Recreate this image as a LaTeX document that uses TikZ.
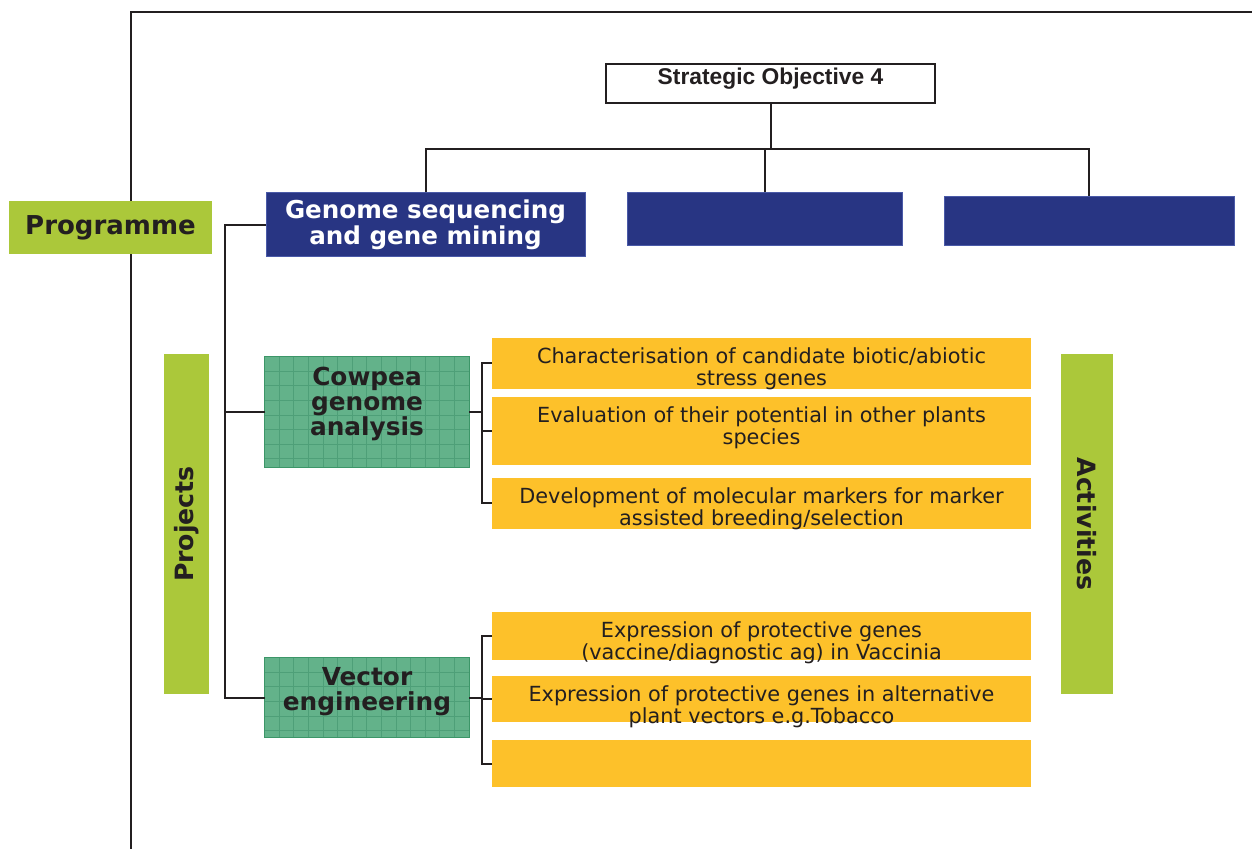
\documentclass[tikz,border=0pt]{standalone}
\usepackage{fontspec}
\setmainfont{DejaVu Sans}
\newfontfamily\arialfam{Liberation Sans}
\usetikzlibrary{calc}
\definecolor{lime}{HTML}{ABC83A}
\definecolor{navy}{HTML}{283583}
\definecolor{navyedge}{HTML}{4A5AA8}
\definecolor{gold}{HTML}{FDC12A}
\definecolor{grn}{HTML}{63B28A}
\definecolor{grnline}{HTML}{4E9F78}
\definecolor{grnedge}{HTML}{3C9668}
\definecolor{ink}{HTML}{231F20}
\tikzset{
  box/.style={rectangle, inner sep=0pt, align=center},
  navybox/.style={box, fill=navy, draw=navyedge, line width=0.5pt, text=white,
    font=\bfseries\fontsize{12.3}{13}\selectfont},
  limebox/.style={box, fill=lime, text=ink, font=\bfseries\fontsize{13}{14}\selectfont},
  goldbox/.style={box, fill=gold, minimum width=269.5pt},
  goldtext/.style={align=center, inner sep=0pt, text=ink,
    font=\fontsize{10.4}{10.9}\selectfont},
  grnbox/.style={box, fill=grn, minimum width=102pt},
  grntext/.style={align=center, inner sep=0pt, text=ink,
    font=\bfseries\fontsize{12.4}{12.6}\selectfont},
  gridl/.style={draw=grnline, line width=0.35pt},
  conn/.style={draw=ink, line width=1pt},
  frameline/.style={draw=ink, line width=1pt},
}
\begin{document}
\begin{tikzpicture}[x=0.5pt,y=-0.5pt]
\useasboundingbox (0,0) rectangle (1252,849);
\fill[white] (0,0) rectangle (1252,849);
% frame
\draw[frameline] (131,849) -- (131,12) -- (1252,12);

% top objective
\node[box, draw=ink, line width=0.8pt, minimum width=164.5pt, minimum height=19.5pt,
  font=\arialfam\bfseries\fontsize{11.4}{13}\selectfont, text=ink,
  text height=8.2pt, text depth=7.5pt] (so) at (770.5,83.5) {Strategic Objective 4};

% programme level
\node[navybox, minimum width=159.5pt, minimum height=32pt] (g1) at (425.5,225)
  {Genome sequencing\\and gene mining};
\node[navybox, minimum width=137.5pt, minimum height=26.5pt] (g2) at (764.5,219.5) {};
\node[navybox, minimum width=145pt, minimum height=24.5pt] (g3) at (1089,221.5) {};
\node[limebox, minimum width=101.5pt, minimum height=26.5pt] (prog) at (110.5,227.5) {Programme};

% side labels
\node[limebox, rotate=90, minimum width=170pt, minimum height=22.5pt,
  font=\bfseries\fontsize{12.6}{14}\selectfont] (proj) at (186.5,524) {Projects};
\node[limebox, rotate=-90, minimum width=170pt, minimum height=26pt,
  font=\bfseries\fontsize{12.6}{14}\selectfont] (act) at (1087,524) {Activities};

% project boxes
\node[grnbox, minimum height=55pt] (cow) at (367,412) {};
\node[grnbox, minimum height=39.5pt] (vec) at (367,697.5) {};
\foreach \b in {cow,vec}{
  \begin{scope}
    \clip (\b.north west) rectangle (\b.south east);
    \foreach \i in {1,...,14}
      \draw[gridl] ($(\b.north west)+(14.6*\i,0)$) -- ++(0,120);
    \foreach \j in {1,...,8}
      \draw[gridl] ($(\b.north west)+(0,14.6*\j)$) -- ++(210,0);
  \end{scope}
  \draw[draw=grnedge, line width=0.8pt] (\b.north west) rectangle (\b.south east);
}
\node[grntext] (cowt) at (367,404) {Cowpea\\genome\\analysis};
\node[grntext] (vect) at (367,692) {Vector\\engineering};

% activities
\node[goldbox, minimum height=25.5pt] (a1) at (761.5,363.5) {};
\node[goldbox, minimum height=34pt] (a2) at (761.5,431) {};
\node[goldbox, minimum height=25.5pt] (a3) at (761.5,503.5) {};
\node[goldbox, minimum height=24pt] (a4) at (761.5,636) {};
\node[goldbox, minimum height=23pt] (a5) at (761.5,699) {};
\node[goldbox, minimum height=23.5pt] (a6) at (761.5,763.5) {};
\node[goldtext] (a1t) at ($(a1.center)+(0,5)$)
  {Characterisation of candidate biotic/abiotic\\stress genes};
\node[goldtext] (a2t) at ($(a2.center)+(0,-3)$)
  {Evaluation of their potential in other plants\\species};
\node[goldtext] (a3t) at ($(a3.center)+(0,5)$)
  {Development of molecular markers for marker\\assisted breeding/selection};
\node[goldtext] (a4t) at ($(a4.center)+(0,7)$)
  {Expression of protective genes\\(vaccine/diagnostic ag) in Vaccinia};
\node[goldtext] (a5t) at ($(a5.center)+(0,8)$)
  {Expression of protective genes in alternative\\plant vectors e.g.Tobacco};

% connectors top
\coordinate (bus) at (0,149);
\draw[conn] (so.south) -- (so.south |- bus);
\draw[conn] (g1.north) -- (g1.north |- bus) -- (g3.north |- bus) -- (g3.north);
\draw[conn] (g2.north) -- (g2.north |- bus);

% programme spine
\coordinate (spine) at (225,0);
\draw[conn] (g1.west) -- (g1.west -| spine) -- (vec.west -| spine) -- (vec.west);
\draw[conn] (cow.west -| spine) -- (cow.west);

% activity spines
\coordinate (rs) at (482,0);
\draw[conn] (cow.east) -- (cow.east -| rs);
\draw[conn] (a1.west) -- (a1.west -| rs) -- (a3.west -| rs) -- (a3.west);
\draw[conn] (a2.west -| rs) -- (a2.west);
\draw[conn] (vec.east) -- (vec.east -| rs);
\draw[conn] (a4.west) -- (a4.west -| rs) -- (a6.west -| rs) -- (a6.west);
\draw[conn] (a5.west -| rs) -- (a5.west);
\end{tikzpicture}
\end{document}
